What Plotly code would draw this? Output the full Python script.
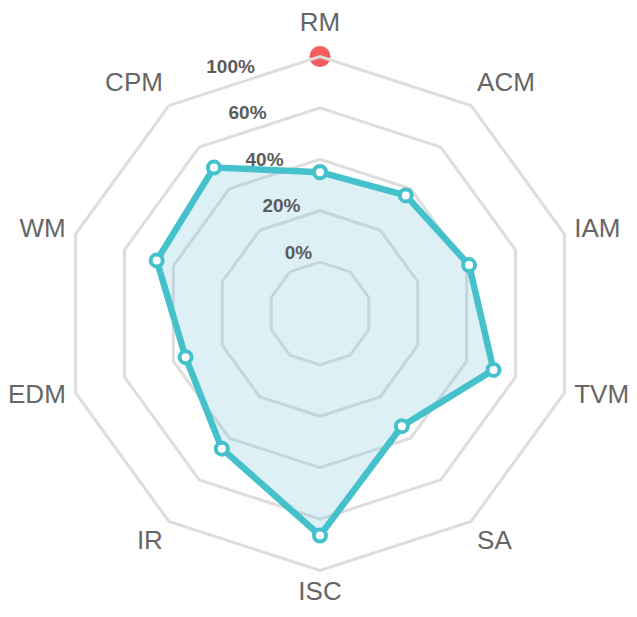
import plotly.graph_objects as go

categories = ["RM", "ACM", "IAM", "TVM", "SA", "ISC", "IR", "EDM", "WM", "CPM"]
# values expressed in grid-ring units (ring 1 = "0%", ring 5 = "100%")
values = [2.75, 2.84, 3.05, 3.55, 2.71, 4.32, 3.25, 2.75, 3.34, 3.51]
tick_vals = [1, 2, 3, 4, 5]
tick_text = ["0%", "20%", "40%", "60%", "100%"]
highlight_category = ["RM"]
highlight_value = [5]

# label alignment around the web (style only)
label_positions = ["top center", "top right", "middle right", "middle right", "bottom right",
                   "bottom center", "bottom left", "middle left", "middle left", "top left"]

TEAL = "#45C1CB"
GRID = "#dddddd"
W, H = 637, 617
# page body has an 8px margin, so work in figure coordinates
cx, cy, R = 312, 305.5, 257
R_MAX = 5


def dom(rmax):
    rr = R * rmax / R_MAX
    return dict(x=[(cx - rr) / W, (cx + rr) / W], y=[1 - (cy + rr) / H, 1 - (cy - rr) / H])


LABEL_R = 5.2        # anchor radius of category labels (ring units)
FIRST_EXTRA = 0.16   # extra room for the top label, above the tick labels
TICK_R2 = 5.4

fig = go.Figure()
fig.add_trace(go.Scatterpolar(
    r=values + values[:1],
    theta=categories + categories[:1],
    mode="lines+markers",
    fill="toself",
    fillcolor="rgba(120,195,215,0.25)",
    line=dict(color=TEAL, width=6.5),
    marker=dict(size=12, color="white", line=dict(color=TEAL, width=4)),
    hoverinfo="skip",
    cliponaxis=False,
))
fig.add_trace(go.Scatterpolar(
    r=highlight_value,
    theta=highlight_category,
    mode="markers",
    marker=dict(size=21, color="#F25C5C"),
    hoverinfo="skip",
    cliponaxis=False,
))
# category labels around the web
fig.add_trace(go.Scatterpolar(
    r=[LABEL_R + (FIRST_EXTRA if i == 0 else 0) for i in range(len(categories))],
    theta=categories,
    mode="text",
    text=categories,
    textposition=label_positions,
    textfont=dict(family="Liberation Sans", size=26, color="#666666"),
    hoverinfo="skip",
    cliponaxis=False,
    subplot="polar2",
))
# radial tick labels, placed along a ray slightly left of the top axis
fig.add_trace(go.Scatterpolar(
    r=[0.965 * v + 0.26 for v in tick_vals],
    theta=[-20] * len(tick_vals),
    mode="text",
    text=tick_text,
    textfont=dict(family="Liberation Sans", size=19, color="#5c5c5c", weight="bold"),
    hoverinfo="skip",
    cliponaxis=False,
    subplot="polar3",
))

fig.update_layout(
    width=W, height=H,
    margin=dict(l=0, r=0, t=0, b=0),
    paper_bgcolor="white",
    showlegend=False,
    polar=dict(
        bgcolor="rgba(0,0,0,0)",
        gridshape="linear",
        domain=dom(R_MAX),
        angularaxis=dict(
            direction="clockwise",
            rotation=90,
            showline=True,
            linecolor=GRID,
            linewidth=3,
            showgrid=False,
            ticks="",
            showticklabels=False,
        ),
        radialaxis=dict(
            range=[0, R_MAX],
            tickvals=tick_vals,
            showticklabels=False,
            showline=False,
            ticks="",
            gridcolor=GRID,
            gridwidth=3,
        ),
    ),
    polar2=dict(
        bgcolor="rgba(0,0,0,0)",
        domain=dom(5.9),
        angularaxis=dict(direction="clockwise", rotation=90, visible=False,
                         type="category", categoryarray=categories),
        radialaxis=dict(range=[0, 5.9], visible=False),
    ),
    polar3=dict(
        bgcolor="rgba(0,0,0,0)",
        domain=dom(TICK_R2),
        angularaxis=dict(direction="clockwise", rotation=90, visible=False),
        radialaxis=dict(range=[0, TICK_R2], visible=False),
    ),
)
fig.write_html("out.html")
